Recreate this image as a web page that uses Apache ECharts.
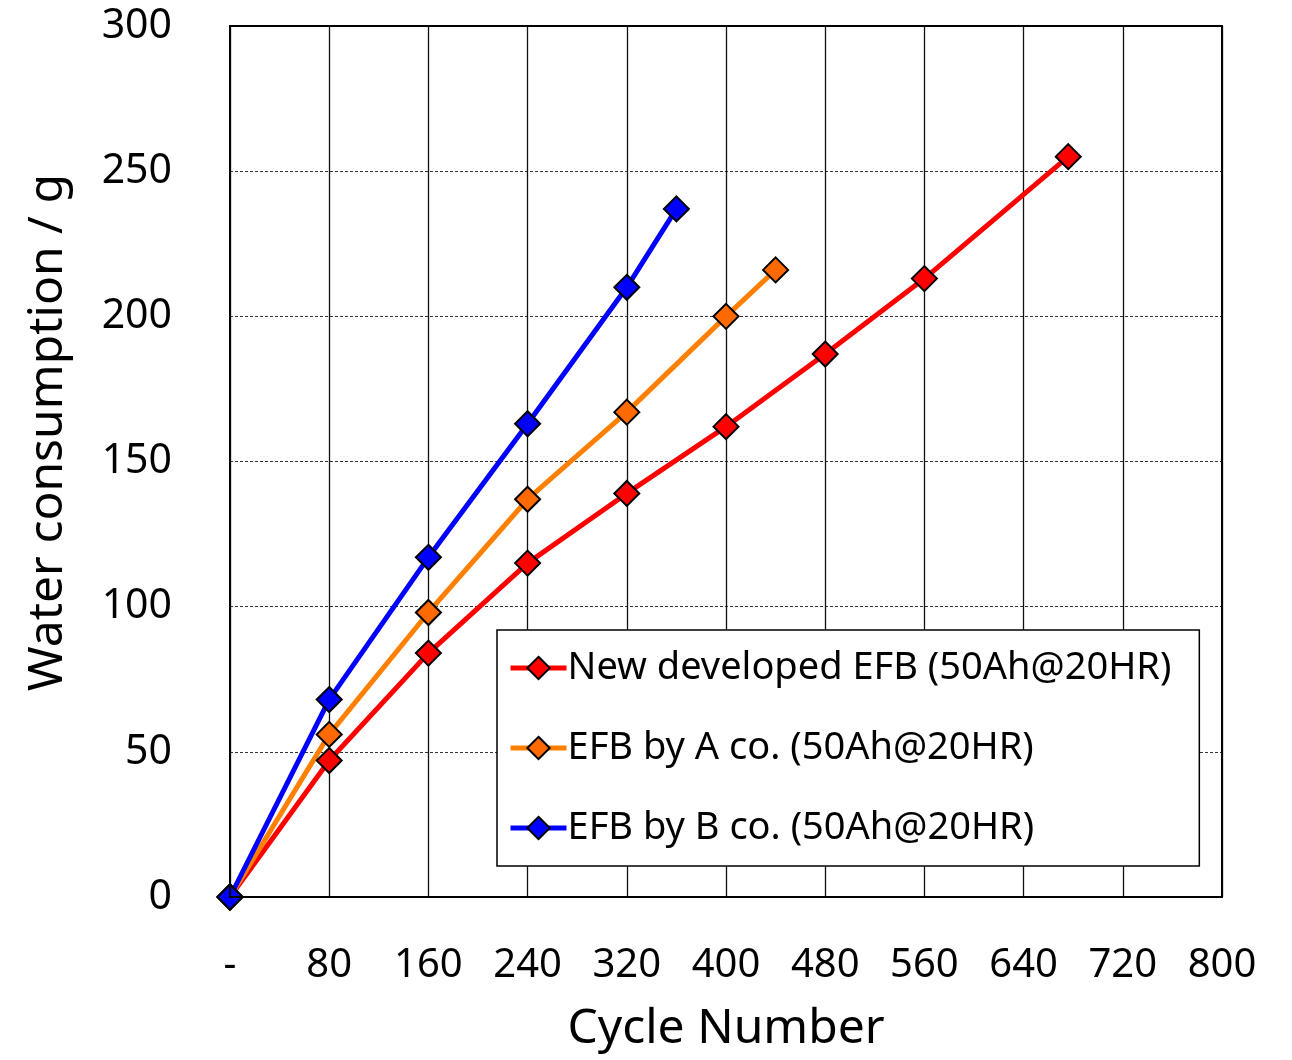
<!DOCTYPE html>
<html>
<head>
<meta charset="utf-8">
<script src="https://cdn.jsdelivr.net/npm/echarts@6/dist/echarts.min.js"></script>
<style>
  html, body { margin: 0; padding: 0; background: #fff; }
  #chart { width: 1292px; height: 1060px; }
</style>
</head>
<body>
<div id="chart"></div>
<script>
  // cycle numbers and water consumption (g)
  const newCycles = [0, 80, 160, 240, 320, 400, 480, 560, 676];
  const newWater = [0, 47, 84, 115, 139, 162, 187, 213, 255];
  const aCycles = [0, 80, 160, 240, 320, 400, 440];
  const aWater = [0, 56, 98, 137, 167, 200, 216];
  const bCycles = [0, 80, 160, 240, 320, 360];
  const bWater = [0, 68, 117, 163, 210, 237];

  const seriesNames = [
    'New developed EFB (50Ah@20HR)',
    'EFB by A co. (50Ah@20HR)',
    'EFB by B co. (50Ah@20HR)'
  ];
  const lineColors = ['#ff0000', '#ff8000', '#0000ff'];
  const markerColors = ['#ff0000', '#ff6a00', '#0000ff'];

  const zip = (xs, ys) => xs.map((x, i) => [x, ys[i]]);
  const allData = [zip(newCycles, newWater), zip(aCycles, aWater), zip(bCycles, bWater)];

  const font = "'Noto Sans', 'Open Sans', sans-serif";
  const myChart = echarts.init(document.getElementById('chart'));

  const option = {
    backgroundColor: '#fff',
    animation: false,
    grid: { left: 230, right: 70, top: 26, bottom: 163, outerBoundsMode: 'none', containLabel: false },
    legend: {
      orient: 'vertical',
      left: 497,
      top: 630,
      padding: [18, 28, 18, 11],
      itemGap: 40,
      itemWidth: 56,
      itemHeight: 28,
      borderColor: '#000',
      borderWidth: 1.5,
      backgroundColor: '#fff',
      lineStyle: { width: 5 },
      textStyle: { fontFamily: font, fontSize: 38, color: '#000', lineHeight: 40, padding: [0, 0, 0, -4] },
      data: seriesNames
    },
    xAxis: {
      type: 'value',
      min: 0,
      max: 800,
      interval: 80,
      name: 'Cycle Number',
      nameLocation: 'middle',
      nameGap: 108,
      nameTextStyle: { fontFamily: font, fontSize: 48, color: '#000' },
      axisLine: { show: true, lineStyle: { color: '#000', width: 2 } },
      axisTick: { show: false },
      axisLabel: {
        fontFamily: font, fontSize: 40, color: '#000', margin: 49,
        formatter: v => (v === 0 ? '-' : v)
      },
      splitLine: { show: true, lineStyle: { color: '#111', width: 1.3 } }
    },
    yAxis: {
      type: 'value',
      min: 0,
      max: 300,
      interval: 50,
      name: 'Water consumption / g',
      nameLocation: 'middle',
      nameGap: 158,
      nameTextStyle: { fontFamily: font, fontSize: 48, color: '#000', padding: [0, 0, 0, 58] },
      axisLine: { show: true, lineStyle: { color: '#000', width: 2 } },
      axisTick: { show: false },
      axisLabel: { fontFamily: font, fontSize: 41, color: '#000', margin: 58 },
      splitLine: { show: true, lineStyle: { color: '#333', width: 1, type: [3, 2] } }
    },
    series: seriesNames.map((name, i) => ({
      name: name,
      type: 'line',
      data: allData[i],
      clip: false,
      symbol: 'diamond',
      symbolSize: 25,
      lineStyle: { color: lineColors[i], width: 5 },
      itemStyle: { color: markerColors[i], borderColor: '#000', borderWidth: 2 }
    }))
  };

  option && myChart.setOption(option);

  // outer frame on top/right like the original plot box
  myChart.setOption({
    graphic: [{
      type: 'rect',
      shape: { x: 230, y: 26, width: 992, height: 871 },
      style: { fill: 'none', stroke: '#000', lineWidth: 2 },
      z: 100
    }]
  });
</script>
</body>
</html>
